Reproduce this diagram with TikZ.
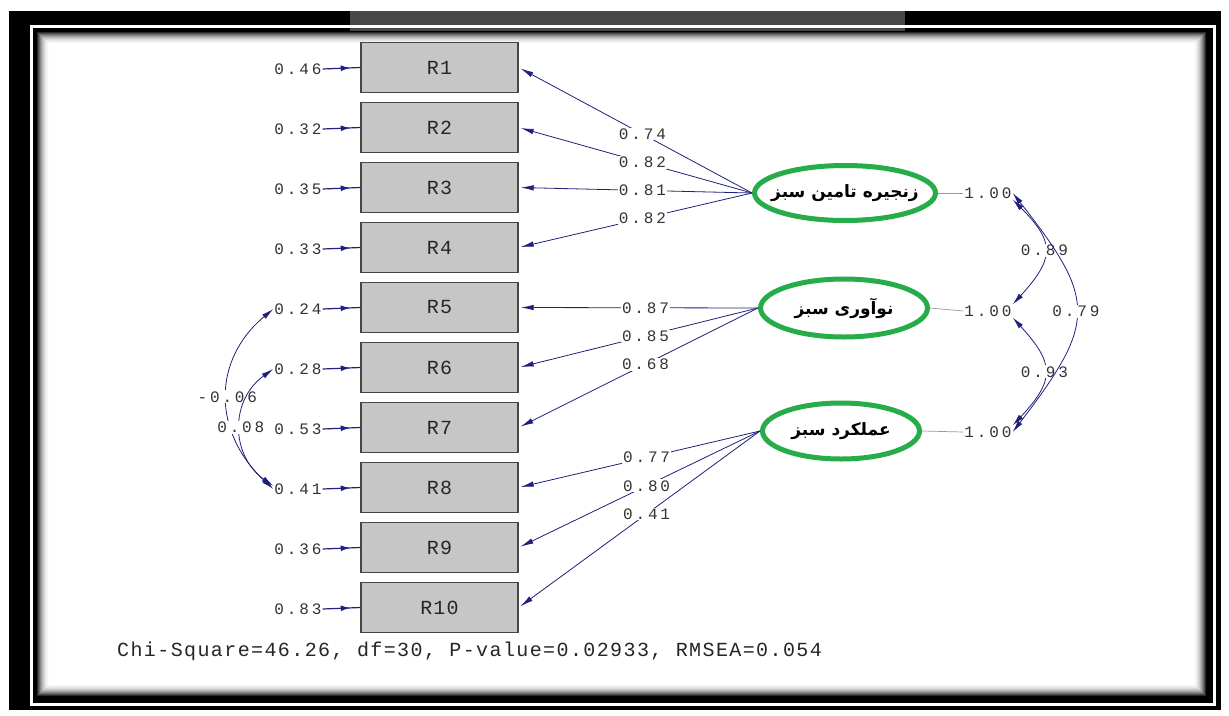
\documentclass[tikz,border=0pt]{standalone}
\usepackage{fontspec}
\usetikzlibrary{arrows.meta,shapes.geometric,decorations.markings}
\TeXXeTstate=1
\newfontfamily\monolbl[LetterSpace=18]{Liberation Mono}
\newfontfamily\monobox[LetterSpace=6]{Liberation Mono}
\newfontfamily\monochi[LetterSpace=7]{Liberation Mono}
\newfontfamily\fafont[Script=Arabic]{DejaVu Sans}
\definecolor{navy}{RGB}{32,32,122}
\definecolor{semgreen}{RGB}{38,172,72}
\definecolor{boxgray}{RGB}{198,198,198}
\definecolor{boxedge}{RGB}{70,70,70}
\definecolor{topgray}{RGB}{72,72,72}
\begin{document}
\begin{tikzpicture}[x=1pt,y=-1pt,
  lbl/.style={font=\monolbl\fontsize{16}{18}\selectfont, text=black!80, fill=white, inner sep=1pt},
  obsbox/.style={rectangle, draw=boxedge, fill=boxgray, line width=1.4pt, minimum width=157pt, minimum height=50pt, inner sep=0pt, font=\monobox\fontsize{20}{22}\selectfont, text=black!85},
  latent/.style={ellipse, draw=semgreen, line width=5pt, inner sep=0pt, font=\fafont\bfseries\fontsize{17}{19}\selectfont},
  load/.style={draw=navy, line width=0.8pt, -{Latex[length=13pt,width=5.5pt]}, shorten >=2pt},
  cov/.style={draw=navy, line width=0.8pt, {Latex[length=12pt,width=5.5pt]}-{Latex[length=12pt,width=5.5pt]}},
  errline/.style={draw=navy, line width=1.2pt, postaction={decorate},
    decoration={markings, mark=at position 0.72 with {\arrow{Latex[length=9pt,width=6pt]}}}},
  unitline/.style={draw=black!40, line width=0.7pt}
]
\useasboundingbox (0,0) rectangle (1229,715);
\fill[white] (0,0) rectangle (1229,715);
% frame
\fill[black] (9,11) rectangle (1221,710);
\fill[topgray] (350,11) rectangle (905,31);
\draw[white, line width=3pt] (31.5,26.5) rectangle (1214.5,704.5);
\fill[white] (36,31) rectangle (1207,697);
\foreach \i in {0,...,13}{
  \pgfmathtruncatemacro\c{100*(1-\i/14)^2.2}
  \draw[black!\c, line width=1.1pt] ({36.5+\i},{31.5+\i}) rectangle ({1206.5-\i},{696.5-\i});
}
% observed variables
\foreach \i in {1,...,10}{
  \node[obsbox] (R\i) at (439.5,{67.5+60*(\i-1)}) {R\i};
}
% error labels
\foreach \i/\v in {1/0.46,2/0.32,3/0.35,4/0.33,5/0.24,6/0.28,7/0.53,8/0.41,9/0.36,10/0.83}{
  \node[lbl] (e\i) at (298,{69+60*(\i-1)}) {\v};
  \draw[errline] (e\i.east) -- (R\i.west);
}
% latent variables
\node[latent, minimum width=181pt, minimum height=55pt] (L1) at (845,193) {\makebox[0pt]{\beginR زنجیره تامین سبز\endR}};
\node[latent, minimum width=167pt, minimum height=58pt] (L2) at (844,308) {\makebox[0pt]{\beginR نوآوری سبز\endR}};
\node[latent, minimum width=157pt, minimum height=56pt] (L3) at (841,431) {\makebox[0pt]{\beginR عملکرد سبز\endR}};
% unit variances
\node[lbl] (v1) at (988,193) {1.00};
\node[lbl] (v2) at (988,311) {1.00};
\node[lbl] (v3) at (988,432) {1.00};
\draw[unitline] (L1.east) -- (v1.west);
\draw[unitline] (L2.east) -- (v2.west);
\draw[unitline] (L3.east) -- (v3.west);
% loadings
\draw[load] (L1.west) -- node[lbl,pos=0.47] {0.74} (R1.east);
\draw[load] (L1.west) -- node[lbl,pos=0.47] {0.82} (R2.east);
\draw[load] (L1.west) -- node[lbl,pos=0.47] {0.81} (R3.east);
\draw[load] (L1.west) -- node[lbl,pos=0.47] {0.82} (R4.east);
\draw[load] (L2.west) -- node[lbl,pos=0.47] {0.87} (R5.east);
\draw[load] (L2.west) -- node[lbl,pos=0.47] {0.85} (R6.east);
\draw[load] (L2.west) -- node[lbl,pos=0.47] {0.68} (R7.east);
\draw[load] (L3.west) -- node[lbl,pos=0.47] {0.77} (R8.east);
\draw[load] (L3.west) -- node[lbl,pos=0.47] {0.80} (R9.east);
\draw[load] (L3.west) -- node[lbl,pos=0.47] {0.41} (R10.east);
% latent covariances
\draw[cov] (v1.south east) .. controls (1055,242) and (1055,258) .. node[lbl] {0.89} (v2.north east);
\draw[cov] (v2.south east) .. controls (1055,364) and (1055,380) .. node[lbl] {0.93} (v3.north east);
\draw[cov] (v1.east) .. controls (1097,300) and (1097,322) .. node[lbl] {0.79} (v3.east);
% error covariances
\draw[cov] (e5.west) .. controls (212,360) and (212,432) .. node[lbl] {-0.06} (e8.west);
\draw[cov] (e6.west) .. controls (230,400) and (230,455) .. node[lbl] {0.08} ([yshift=3pt]e8.west);
% fit statistics
\node[anchor=west, inner sep=0pt, font=\monochi\fontsize{20}{22}\selectfont, text=black!85] (fit) at (117,651) {Chi-Square=46.26, df=30, P-value=0.02933, RMSEA=0.054};
\end{tikzpicture}
\end{document}
